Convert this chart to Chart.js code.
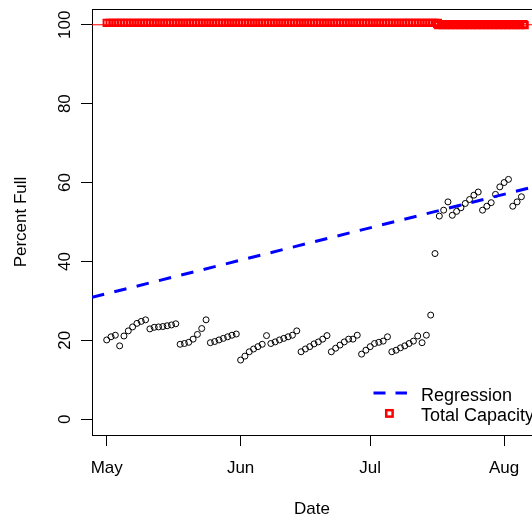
<!DOCTYPE html>
<html><head><meta charset="utf-8">
<script src="https://cdn.jsdelivr.net/npm/chart.js@4/dist/chart.umd.min.js"></script>
<style>html,body{margin:0;padding:0;background:#fff;overflow:hidden}canvas{display:block}</style>
</head><body>
<canvas id="c" width="532" height="521"></canvas>
<script>
// ---- data (days since May 1) ----
const monthTicks = [0, 31, 61, 92];
const monthLabels = ['May', 'Jun', 'Jul', 'Aug'];
const yTicks = [0, 20, 40, 60, 80, 100];

const obsDays = [0,1,2,3,4,5,6,7,8,9,10,11,12,13,14,15,16,17,18,19,20,21,22,23,24,25,26,27,28,29,30,31,32,33,34,35,36,37,38,39,40,41,42,43,44,45,46,47,48,49,50,51,52,53,54,55,56,57,58,59,60,61,62,63,64,65,66,67,68,69,70,71,72,73,74,75,76,77,78,79,80,81,82,83,84,85,86,87,88,89,90,91,92,93,94,95,96];
const pctFull = [20.1,20.9,21.3,18.6,21.1,22.4,23.4,24.3,24.8,25.2,22.9,23.3,23.4,23.5,23.7,23.9,24.2,19.0,19.2,19.5,20.3,21.5,23.0,25.2,19.4,19.7,20.1,20.5,20.9,21.3,21.6,15.0,16.0,17.1,17.8,18.4,19.0,21.2,19.2,19.6,20.1,20.5,20.9,21.3,22.4,17.1,17.8,18.4,19.1,19.6,20.3,21.2,17.1,18.0,18.8,19.6,20.3,20.3,21.3,16.5,17.5,18.4,19.2,19.5,19.8,20.9,17.1,17.5,18.1,18.6,19.2,19.8,21.1,19.4,21.3,26.4,42.0,51.5,53.0,55.1,51.7,52.7,53.6,54.7,55.7,56.8,57.6,53.0,54.0,54.9,57.0,58.9,60.0,60.8,54.0,55.1,56.4];

const capDays = [0,0.67,1.33,2,2.67,3.33,4,4.67,5.33,6,6.67,7.33,8,8.67,9.33,10,10.67,11.33,12,12.67,13.33,14,14.67,15.33,16,16.67,17.33,18,18.67,19.33,20,20.67,21.33,22,22.67,23.33,24,24.67,25.33,26,26.67,27.33,28,28.67,29.33,30,30.67,31.33,32,32.67,33.33,34,34.67,35.33,36,36.67,37.33,38,38.67,39.33,40,40.67,41.33,42,42.67,43.33,44,44.67,45.33,46,46.67,47.33,48,48.67,49.33,50,50.67,51.33,52,52.67,53.33,54,54.67,55.33,56,56.67,57.33,58,58.67,59.33,60,60.67,61.33,62,62.67,63.33,64,64.67,65.33,66,66.67,67.33,68,68.67,69.33,70,70.67,71.33,72,72.67,73.33,74,74.67,75.33,76,76.67,
  76.5,77.5,78.5,79.5,80.5,81.5,82.5,83.5,84.5,85.5,86.5,87.5,88.5,89.5,90.5,91.5,92.5,93.5,94.5,95.5,96.5,
  76.75,77.75,78.75,79.75,80.75,81.75,82.75,83.75,84.75,85.75,86.75,87.75,88.75,89.75,90.75,91.75,92.75,93.75,94.75,95.75,96.75];
const capPct = [100.5,100.5,100.5,100.5,100.5,100.5,100.5,100.5,100.5,100.5,100.5,100.5,100.5,100.5,100.5,100.5,100.5,100.5,100.5,100.5,100.5,100.5,100.5,100.5,100.5,100.5,100.5,100.5,100.5,100.5,100.5,100.5,100.5,100.5,100.5,100.5,100.5,100.5,100.5,100.5,100.5,100.5,100.5,100.5,100.5,100.5,100.5,100.5,100.5,100.5,100.5,100.5,100.5,100.5,100.5,100.5,100.5,100.5,100.5,100.5,100.5,100.5,100.5,100.5,100.5,100.5,100.5,100.5,100.5,100.5,100.5,100.5,100.5,100.5,100.5,100.5,100.5,100.5,100.5,100.5,100.5,100.5,100.5,100.5,100.5,100.5,100.5,100.5,100.5,100.5,100.5,100.5,100.5,100.5,100.5,100.5,100.5,100.5,100.5,100.5,100.5,100.5,100.5,100.5,100.5,100.5,100.5,100.5,100.5,100.5,100.5,100.5,100.5,100.5,100.5,100.5,
  100.15,100.15,100.15,100.15,100.15,100.15,100.15,100.15,100.15,100.15,100.15,100.15,100.15,100.15,100.15,100.15,100.15,100.15,100.15,100.15,100.15,
  99.9,99.9,99.9,99.9,99.9,99.9,99.9,99.9,99.9,99.9,99.9,99.9,99.9,99.9,99.9,99.9,99.9,99.9,99.9,99.9,99.9];

const regDays = [-3.4, 98.45];
const regPct = [30.9, 58.8];
const capLineDays = [-3.4, 98.45];
const capLinePct = [100, 100];

const xRange = [-3.4, 98.45];
const yRange = [-4, 104];
const legendLabels = ['Regression', 'Total Capacity'];

// ---- chart ----
const FONT = "'Liberation Sans', Arial, sans-serif";
Chart.defaults.font.family = FONT;
Chart.defaults.font.size = 17;
Chart.defaults.color = '#000';

const zip = (xs, ys) => xs.map((x, i) => ({x, y: ys[i]}));

const decor = {
  id: 'decor',
  afterDraw(chart) {
    const {ctx, chartArea: a, scales} = chart;
    ctx.save();
    ctx.strokeStyle = '#000';
    ctx.lineWidth = 1;
    ctx.beginPath();
    ctx.moveTo(a.left, Math.round(a.top) + 0.5);
    ctx.lineTo(a.right + 1, Math.round(a.top) + 0.5);
    ctx.stroke();
    ctx.fillStyle = '#000';
    ctx.font = '17px ' + FONT;
    ctx.textAlign = 'center';
    ctx.textBaseline = 'alphabetic';
    yTicks.forEach(v => {
      const y = scales.y.getPixelForValue(v);
      ctx.save();
      ctx.translate(69.5, y);
      ctx.rotate(-Math.PI / 2);
      ctx.fillText(String(v), 0, 0);
      ctx.restore();
    });
    ctx.strokeStyle = '#0000FF';
    ctx.lineWidth = 3;
    ctx.setLineDash([12, 10]);
    ctx.beginPath();
    ctx.moveTo(373.5, 393);
    ctx.lineTo(407, 393);
    ctx.stroke();
    ctx.setLineDash([]);
    ctx.strokeStyle = '#FF0000';
    ctx.lineWidth = 2.5;
    ctx.strokeRect(386.2, 410.2, 6.4, 6.4);
    ctx.fillStyle = '#000';
    ctx.textAlign = 'left';
    ctx.font = '18px ' + FONT;
    ctx.fillText(legendLabels[0], 421, 400.5);
    ctx.fillText(legendLabels[1], 421, 421);
    ctx.restore();
  }
};

new Chart(document.getElementById('c'), {
  type: 'scatter',
  data: {
    datasets: [
      { label: 'Regression', type: 'line', data: zip(regDays, regPct), borderColor: '#0000FF', borderWidth: 3,
        borderDash: [12.5, 10.5], borderCapStyle: 'butt', pointRadius: 0, fill: false, order: 1 },
      { label: 'Total Capacity', data: zip(capDays, capPct), pointStyle: 'rect', pointRadius: 4.4,
        borderColor: '#FF0000', backgroundColor: 'rgba(0,0,0,0)', borderWidth: 2, order: 2 },
      { label: 'Capacity line', type: 'line', data: zip(capLineDays, capLinePct), borderColor: '#FF0000',
        borderWidth: 1, pointRadius: 0, fill: false, order: 3 },
      { label: 'Percent Full', data: zip(obsDays, pctFull), pointStyle: 'circle', pointRadius: 3,
        borderColor: '#000', backgroundColor: 'rgba(0,0,0,0)', borderWidth: 1, order: 4 }
    ]
  },
  options: {
    responsive: false,
    animation: false,
    devicePixelRatio: 1,
    layout: { autoPadding: false, padding: { top: 9, left: 0, right: 0, bottom: 0 } },
    plugins: { legend: { display: false }, tooltip: { enabled: false } },
    scales: {
      x: {
        type: 'linear', min: xRange[0], max: xRange[1],
        afterBuildTicks: s => { s.ticks = monthTicks.map(v => ({value: v})); },
        afterFit: s => { s.height = 86; s.paddingLeft = 0; s.paddingRight = 0; },
        ticks: { autoSkip: false, maxRotation: 0, padding: 12, color: '#000',
          callback: v => monthLabels[monthTicks.indexOf(v)] },
        grid: { drawOnChartArea: false, drawTicks: true, tickLength: 11, color: '#000' },
        border: { display: true, color: '#000', width: 1 },
        title: { display: true, text: 'Date', color: '#000', padding: { top: 0, bottom: 1.5 } }
      },
      y: {
        type: 'linear', min: yRange[0], max: yRange[1],
        afterBuildTicks: s => { s.ticks = yTicks.map(v => ({value: v})); },
        afterFit: s => { s.width = 92; s.paddingTop = 0; s.paddingBottom = 0; },
        ticks: { display: false },
        grid: { drawOnChartArea: false, drawTicks: true, tickLength: 11, color: '#000' },
        border: { display: true, color: '#000', width: 1 },
        title: { display: true, text: 'Percent Full', color: '#000', padding: { top: 11.5, bottom: 0 } }
      }
    }
  },
  plugins: [decor]
});
</script>
</body></html>
